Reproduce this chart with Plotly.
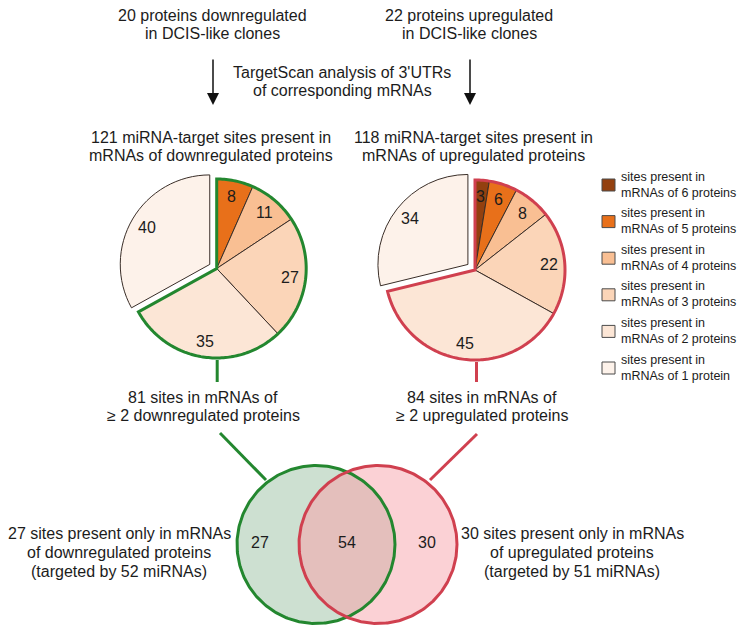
import numpy as np
import plotly.graph_objects as go

# The page body has an 8px margin, so the figure is drawn 8px smaller and its
# axes are shifted so that axis units equal screen pixels of the window.
OFF = 8
W, H = 748, 628
FW, FH = W - OFF, H - OFF

# ---------------- data ----------------
protein_counts = [6, 5, 4, 3, 2, 1]
legend_line1 = ["sites present in"] * 6
legend_line2 = ["mRNAs of 6 proteins", "mRNAs of 5 proteins", "mRNAs of 4 proteins",
                "mRNAs of 3 proteins", "mRNAs of 2 proteins", "mRNAs of 1 protein"]
slice_colors = ["#93400F", "#E8701A", "#F9BF93", "#FBD5B8", "#FCE6D6", "#FDF2EA"]
down_sites = [0, 8, 11, 27, 35, 40]   # sites in mRNAs of downregulated proteins
up_sites = [3, 6, 8, 22, 45, 34]      # sites in mRNAs of upregulated proteins
venn_counts = [27, 54, 30]            # only down, shared, only up

FONT = "Liberation Sans, Arial, sans-serif"
TXT = "#1c1c1c"
GREEN = "#23872F"
RED = "#D0404F"
EDGE = "#3a2e28"

fig = go.Figure()
shapes = []
annotations = []


def add_text(x, y, s, size=16, anchor="center"):
    annotations.append(dict(x=x, y=y, xref="x", yref="y", text=s, showarrow=False,
                            xanchor=anchor, yanchor="middle",
                            font=dict(family=FONT, size=size, color=TXT)))


def add_pie(values, cx, cy, r, pull, outline_color):
    vals, labs, cols, counts = [], [], [], []
    for v, l, c, n in zip(values, legend_line2, slice_colors, protein_counts):
        if v > 0:
            vals.append(v); labs.append(l); cols.append(c); counts.append(n)
    pulls = [pull if n == 1 else 0 for n in counts]
    hb = r * (1 + pull)
    px, py = cx - OFF, cy - OFF
    fig.add_trace(go.Pie(
        values=vals, labels=labs, sort=False, direction="clockwise", rotation=0,
        pull=pulls, textinfo="none", hoverinfo="label+value", showlegend=False,
        marker=dict(colors=cols, line=dict(color=EDGE, width=1)),
        domain=dict(x=[(px - hb) / FW, (px + hb) / FW],
                    y=[1 - (py + hb) / FH, 1 - (py - hb) / FH])))
    total = float(sum(vals))
    # value labels
    cum = 0.0
    for v, p in zip(vals, pulls):
        mid = 2 * np.pi * (cum + v / 2) / total
        ox = p * r * np.sin(mid); oy = -p * r * np.cos(mid)
        rr = 0.82 * r
        add_text(cx + ox + rr * np.sin(mid), cy + oy - rr * np.cos(mid), str(v))
        cum += v
    # outline of the >=2 group
    grp = sum(v for v, n in zip(vals, counts) if n >= 2)
    a_end = 2 * np.pi * grp / total
    ang = np.linspace(0, a_end, 200)
    pts = [(cx, cy)] + [(cx + r * np.sin(a), cy - r * np.cos(a)) for a in ang]
    path = "M " + " L ".join(f"{x:.2f},{y:.2f}" for x, y in pts) + " Z"
    shapes.append(dict(type="path", path=path, xref="x", yref="y", layer="above",
                       line=dict(color=outline_color, width=3), fillcolor="rgba(0,0,0,0)"))


# pies
L_CX, L_CY, L_R = 216.7, 268.5, 89.5
R_CX, R_CY, R_R = 475.0, 270.0, 90.0
add_pie(down_sites, L_CX, L_CY, L_R, 0.09, GREEN)
add_pie(up_sites, R_CX, R_CY, R_R, 0.10, RED)

# Venn
VG = (316.0, 544.5)
VR = (378.0, 544.5)
VRAD = 79.0
t = np.linspace(0, 2 * np.pi, 300)
fig.add_trace(go.Scatter(x=VG[0] + VRAD * np.cos(t), y=VG[1] + VRAD * np.sin(t),
                         fill="toself", fillcolor="#CDE0D1", line=dict(width=0),
                         mode="lines", hoverinfo="skip", showlegend=False))
fig.add_trace(go.Scatter(x=VR[0] + VRAD * np.cos(t), y=VR[1] + VRAD * np.sin(t),
                         fill="toself", fillcolor="#FBD1D5", line=dict(width=0),
                         mode="lines", hoverinfo="skip", showlegend=False))
d = VR[0] - VG[0]
hh = np.sqrt(VRAD ** 2 - (d / 2) ** 2)
phi = np.arctan2(hh, d / 2)
ag = np.linspace(-phi, phi, 100)              # right arc of green circle
ar = np.linspace(np.pi - phi, np.pi + phi, 100)  # left arc of red circle
lx = np.concatenate([VG[0] + VRAD * np.cos(ag), VR[0] + VRAD * np.cos(ar)])
ly = np.concatenate([VG[1] + VRAD * np.sin(ag), VR[1] + VRAD * np.sin(ar)])
fig.add_trace(go.Scatter(x=lx, y=ly, fill="toself", fillcolor="#E4BFBC", line=dict(width=0),
                         mode="lines", hoverinfo="skip", showlegend=False))
fig.add_trace(go.Scatter(x=VG[0] + VRAD * np.cos(t), y=VG[1] + VRAD * np.sin(t),
                         mode="lines", line=dict(color=GREEN, width=3),
                         hoverinfo="skip", showlegend=False))
fig.add_trace(go.Scatter(x=VR[0] + VRAD * np.cos(t), y=VR[1] + VRAD * np.sin(t),
                         mode="lines", line=dict(color=RED, width=3),
                         hoverinfo="skip", showlegend=False))
add_text(VG[0] - 56, 542, str(venn_counts[0]))
add_text((VG[0] + VR[0]) / 2, 542, str(venn_counts[1]))
add_text(VR[0] + 49, 542, str(venn_counts[2]))

# connectors
shapes.append(dict(type="line", xref="x", yref="y", x0=L_CX + 0.5, x1=L_CX + 0.5,
                   y0=L_CY + L_R + 2, y1=382, line=dict(color=GREEN, width=3)))
shapes.append(dict(type="line", xref="x", yref="y", x0=R_CX + 1.5, x1=R_CX + 1.5,
                   y0=R_CY + R_R + 2, y1=382, line=dict(color=RED, width=3)))
shapes.append(dict(type="line", xref="x", yref="y", x0=220, y0=433, x1=266, y1=480,
                   line=dict(color=GREEN, width=3)))
shapes.append(dict(type="line", xref="x", yref="y", x0=477, y0=434, x1=430, y1=480,
                   line=dict(color=RED, width=3)))

# arrows
for ax_ in (213, 470):
    annotations.append(dict(x=ax_, y=105, ax=ax_, ay=58, xref="x", yref="y",
                            axref="x", ayref="y", text="", showarrow=True,
                            arrowhead=2, arrowsize=1.6, arrowwidth=1.5,
                            arrowcolor="#111111", standoff=0, startstandoff=0))

# texts
add_text(212, 15, "20 proteins downregulated")
add_text(212, 33, "in DCIS-like clones")
add_text(469, 15, "22 proteins upregulated")
add_text(469, 33, "in DCIS-like clones")
add_text(342, 72, "TargetScan analysis of 3'UTRs")
add_text(342, 90, "of corresponding mRNAs")
add_text(211, 137, "121 miRNA-target sites present in")
add_text(211, 155, "mRNAs of downregulated proteins")
add_text(473, 137, "118 miRNA-target sites present in")
add_text(473, 155, "mRNAs of upregulated proteins")
add_text(203, 397, "81 sites in mRNAs of")
add_text(203, 415, "≥ 2 downregulated proteins")
add_text(482, 397, "84 sites in mRNAs of")
add_text(482, 415, "≥ 2 upregulated proteins")
add_text(119, 533, "27 sites present only in mRNAs")
add_text(119, 552, "of downregulated proteins")
add_text(119, 571, "(targeted by 52 miRNAs)")
add_text(572, 533, "30 sites present only in mRNAs")
add_text(572, 552, "of upregulated proteins")
add_text(572, 571, "(targeted by 51 miRNAs)")

# legend (manual)
for i, (l1, l2, c) in enumerate(zip(legend_line1, legend_line2, slice_colors)):
    yc = 185 + 36.6 * i
    shapes.append(dict(type="rect", xref="x", yref="y", x0=602, x1=615, y0=yc - 6, y1=yc + 6,
                       fillcolor=c, line=dict(color="#4a4a4a", width=1)))
    add_text(619, yc - 8.5, l1, size=12.5, anchor="left")
    add_text(619, yc + 7.5, l2, size=12.5, anchor="left")

fig.update_layout(
    width=FW, height=FH, margin=dict(l=0, r=0, t=0, b=0),
    paper_bgcolor="white", plot_bgcolor="white",
    xaxis=dict(range=[OFF, W], visible=False, fixedrange=True, domain=[0, 1]),
    yaxis=dict(range=[H, OFF], visible=False, fixedrange=True, domain=[0, 1]),
    shapes=shapes, annotations=annotations, showlegend=False,
)
fig.write_html("out.html")
